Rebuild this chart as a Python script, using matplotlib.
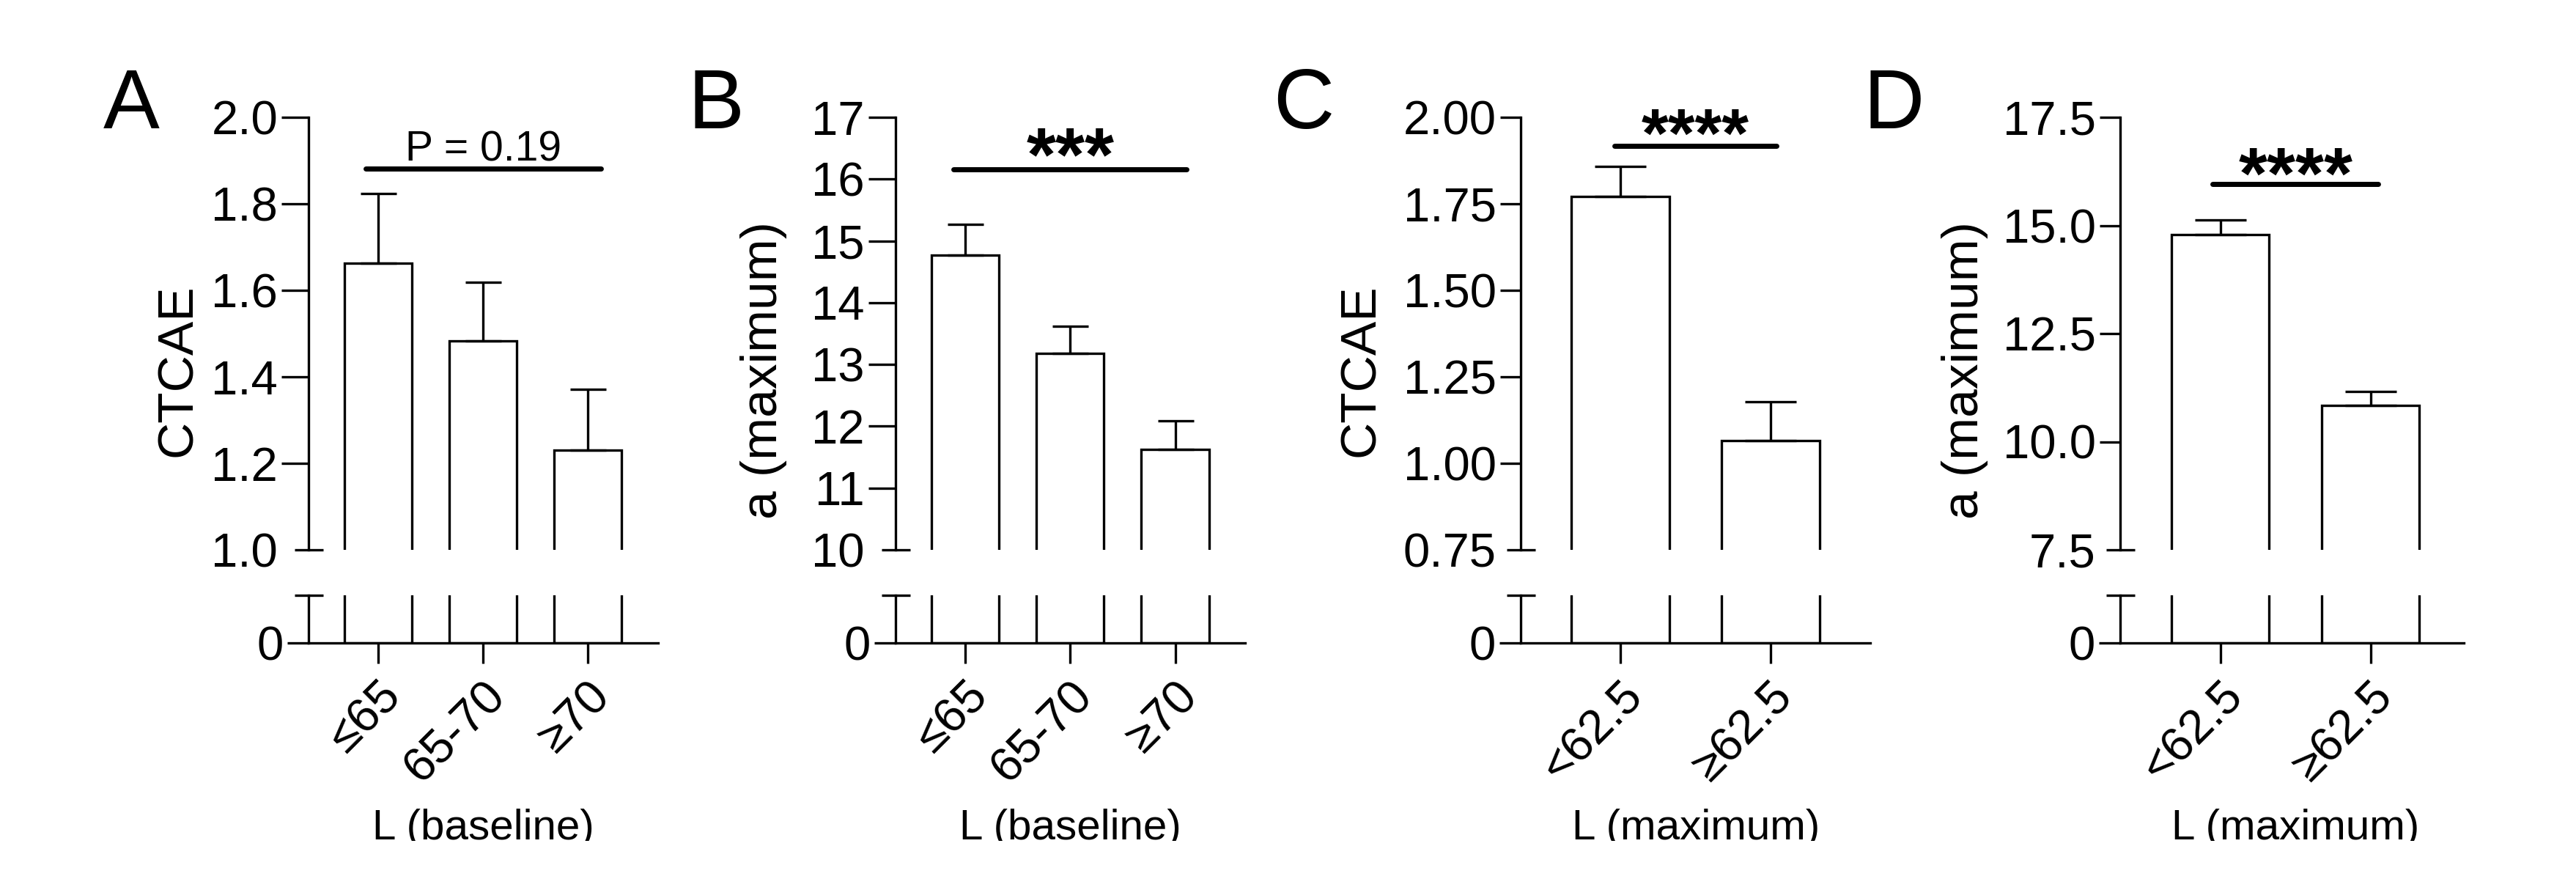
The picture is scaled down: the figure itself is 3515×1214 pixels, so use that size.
import matplotlib
matplotlib.use('Agg')
import matplotlib.pyplot as plt
import numpy as np
from matplotlib.transforms import Bbox, TransformedBbox

plt.rcParams['font.family'] = ['Liberation Sans', 'DejaVu Sans']

# --- data ---
a_labels = ['≤65', '65-70', '≥70']
a_means = [1.663, 1.483, 1.231]
a_sem = [0.160, 0.135, 0.141]
a_yticks = [1.0, 1.2, 1.4, 1.6, 1.8, 2.0]

b_labels = ['≤65', '65-70', '≥70']
b_means = [14.77, 13.18, 11.62]
b_sem = [0.50, 0.44, 0.47]
b_yticks = [10, 11, 12, 13, 14, 15, 16, 17]

c_labels = ['<62.5', '≥62.5']
c_means = [1.771, 1.066]
c_sem = [0.086, 0.113]
c_yticks = [0.75, 1.00, 1.25, 1.50, 1.75, 2.00]

d_labels = ['<62.5', '≥62.5']
d_means = [14.78, 10.845]
d_sem = [0.35, 0.31]
d_yticks = [7.5, 10.0, 12.5, 15.0, 17.5]

W, H, DPI = 3515, 1214, 100
PX = 72 / DPI  # points per pixel

fig = plt.figure(figsize=(W / DPI, H / DPI), dpi=DPI)
fig.patch.set_facecolor('white')

# vertical layout in pixels from top
UP_TOP, UP_BOT = 160, 750
LO_TOP, LO_BOT = 812, 877
LW = 2.4


def fx(px):
    return px / W


def fy(py):
    return 1 - py / H


def panel(letter, labels, means, sem, yticks, fmt, ylabel, xlabel,
          sig_text, sig_y, axis_x, spacing, right, bar_w, tick_px, cap_px,
          sig_pad, sig_off, sig_size, sig_bold, letter_x, ylabel_x):
    n = len(labels)
    x = np.arange(n)
    xlim = (-0.667, n - 1 + right)
    width_px = (xlim[1] - xlim[0]) * spacing

    ax = fig.add_axes([fx(axis_x), fy(UP_BOT), width_px / W, (UP_BOT - UP_TOP) / H])
    lo = fig.add_axes([fx(axis_x), fy(LO_BOT), width_px / W, (LO_BOT - LO_TOP) / H])

    for a in (ax, lo):
        a.bar(x, means, bar_w, color='white', edgecolor='black', linewidth=LW)
        a.set_xlim(*xlim)
        a.spines['top'].set_visible(False)
        a.spines['right'].set_visible(False)
        a.spines['left'].set_linewidth(LW)
        a.spines['bottom'].set_linewidth(LW)
        a.patch.set_alpha(0)

    ax.errorbar(x, means, yerr=[np.zeros(n), sem], fmt='none', ecolor='black',
                elinewidth=LW, capsize=cap_px * PX, capthick=LW)

    # upper segment
    ax.set_ylim(yticks[0], yticks[-1])
    ax.spines['bottom'].set_visible(False)
    ax.set_xticks([])
    ax.set_yticks(yticks[1:])
    ax.set_yticklabels([fmt.format(v) for v in yticks[1:]])
    ax.set_yticks([yticks[0]], minor=True)
    ax.set_yticklabels([fmt.format(yticks[0])], minor=True)
    pad = 5 * PX
    ax.tick_params(axis='y', which='major', direction='out', length=tick_px * PX,
                   width=LW, pad=pad, labelsize=47)
    ax.tick_params(axis='y', which='minor', direction='inout', length=39 * PX,
                   width=LW, pad=pad + (tick_px - 19.5) * PX, labelsize=47)

    # lower segment
    lo.set_ylim(0, 1)
    lo.set_yticks([0])
    lo.set_yticklabels(['0'])
    lo.set_yticks([1], minor=True)
    lo.set_yticklabels([''], minor=True)
    lo.tick_params(axis='y', which='major', direction='out', length=29 * PX,
                   width=LW, pad=pad, labelsize=47)
    lo.tick_params(axis='y', which='minor', direction='inout', length=39 * PX, width=LW)
    lo.set_xticks(x)
    lo.set_xticklabels(labels, rotation=45, ha='right', rotation_mode='anchor')
    lo.tick_params(axis='x', direction='out', length=28 * PX, width=LW,
                   pad=14 * PX, labelsize=47)

    # significance bar
    ax.plot([x[0] - sig_pad, x[-1] + sig_pad], [sig_y, sig_y], color='black',
            lw=5, solid_capstyle='round', clip_on=False)
    ax.annotate(sig_text, xy=((x[0] + x[-1]) / 2, sig_y), xytext=(0, sig_off * PX),
                textcoords='offset points', ha='center', va='baseline',
                fontsize=sig_size, fontweight='bold' if sig_bold else 'normal',
                annotation_clip=False)

    # labels
    fig.text(fx(letter_x), fy(175), letter, fontsize=83, ha='left', va='baseline')
    fig.text(fx(ylabel_x), fy(505), ylabel, fontsize=50, rotation=90,
             rotation_mode='anchor', ha='center', va='baseline')
    xl = fig.text(fx(axis_x + (0.667 + (n - 1) / 2) * spacing), fy(1145), xlabel,
                  fontsize=42, ha='center', va='baseline')
    xl.set_clip_box(TransformedBbox(Bbox([[0, fy(1147)], [1, 1]]), fig.transFigure))
    xl.set_clip_on(True)


panel('A', a_labels, a_means, a_sem, a_yticks, '{:.1f}', 'CTCAE', 'L (baseline)',
      'P = 0.19', 1.881, 421, 143.0, 0.667, 0.645, 37, 24.5,
      0.125, 10.5, 41, False, 141, 261)
panel('B', b_labels, b_means, b_sem, b_yticks, '{:d}', 'a (maximum)', 'L (baseline)',
      '***', 16.16, 1221.5, 143.25, 0.667, 0.645, 37, 24.5,
      0.11, -15, 74, True, 939, 1060)
panel('C', c_labels, c_means, c_sem, c_yticks, '{:.2f}', 'CTCAE', 'L (maximum)',
      '****', 1.917, 2075, 204.5, 0.667, 0.655, 28.5, 35,
      0.042, -15, 68, True, 1737, 1875)
panel('D', d_labels, d_means, d_sem, d_yticks, '{:.1f}', 'a (maximum)', 'L (maximum)',
      '****', 15.96, 2893, 205, 0.623, 0.651, 28.5, 35,
      0.05, -20, 72, True, 2543, 2699)

fig.savefig('out.png', dpi=DPI, facecolor='white')
